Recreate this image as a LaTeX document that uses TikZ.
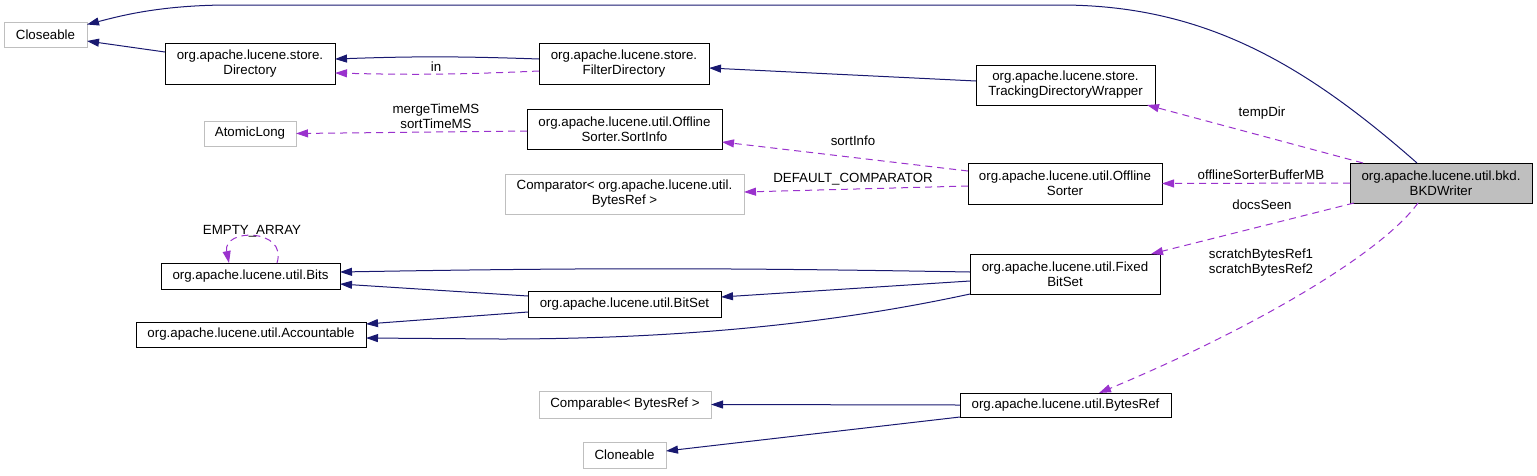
\documentclass[tikz,border=0pt]{standalone}
\usepackage{fontspec}
\setmainfont{Liberation Sans}
\usetikzlibrary{arrows.meta,calc}
\definecolor{edgeblue}{RGB}{25,25,112}
\definecolor{edgepurple}{RGB}{154,50,205}
\definecolor{boxgray}{RGB}{191,191,191}
\tikzset{
	cls/.style={draw=black, line width=1pt, fill=white},
	ext/.style={draw=boxgray, line width=1pt, fill=white},
	inh/.style={draw=edgeblue, line width=1pt, -{Triangle[length=12pt,width=8pt]}},
	use/.style={draw=edgepurple, line width=1pt, dash pattern=on 7pt off 5pt, -{Triangle[length=12pt,width=8pt,fill=edgepurple]}},
	lbl/.style={fill=none}
}
\begin{document}
\begin{tikzpicture}[x=1pt, y=-1pt, font=\fontsize{13.3}{15}\selectfont, align=center, inner sep=0pt, outer sep=0pt]
		\useasboundingbox (0,0) rectangle (1537,475);
		\node[ext, minimum width=83pt, minimum height=25pt] (closeTop) at (45.5,34.5) {Closeable};
		\node[cls, minimum width=170pt, minimum height=41pt] (directory) at (250,63.5) {org.apache.lucene.store.\\Directory};
		\node[cls, minimum width=170pt, minimum height=41pt] (filterDir) at (624,63.5) {org.apache.lucene.store.\\FilterDirectory};
		\node[cls, minimum width=179pt, minimum height=40pt] (tracking) at (1065.5,85) {org.apache.lucene.store.\\TrackingDirectoryWrapper};
		\node[ext, minimum width=92pt, minimum height=25pt] (atomicLong) at (250,133.5) {AtomicLong};
		\node[cls, minimum width=195pt, minimum height=40pt] (sortInfo) at (624.5,129) {org.apache.lucene.util.Offline\\Sorter.SortInfo};
		\node[ext, minimum width=239pt, minimum height=40pt] (comparator) at (624.5,194) {Comparator< org.apache.lucene.util.\\BytesRef >};
		\node[cls, minimum width=194pt, minimum height=41pt] (sorter) at (1065,183.5) {org.apache.lucene.util.Offline\\Sorter};
		\node[cls, fill=boxgray, minimum width=182pt, minimum height=40pt] (bkdWriter) at (1441,183) {org.apache.lucene.util.bkd.\\BKDWriter};
		\node[cls, minimum width=179pt, minimum height=26pt] (bits) at (250.5,276) {org.apache.lucene.util.Bits};
		\node[cls, minimum width=230pt, minimum height=25pt] (accountable) at (251,334.5) {org.apache.lucene.util.Accountable};
		\node[cls, minimum width=193pt, minimum height=26pt] (bitSet) at (624.5,304) {org.apache.lucene.util.BitSet};
		\node[cls, minimum width=190pt, minimum height=40pt] (fixedBitSet) at (1065,274) {org.apache.lucene.util.Fixed\\BitSet};
		\node[ext, minimum width=172pt, minimum height=27pt] (comparable) at (625,404.5) {Comparable< BytesRef >};
		\node[cls, minimum width=211pt, minimum height=24pt] (bytesRef) at (1065.5,405) {org.apache.lucene.util.BytesRef};
		\node[ext, minimum width=83pt, minimum height=26pt] (cloneBottom) at (624.5,455) {Cloneable};

		\draw[inh] ([xshift=-24pt]bkdWriter.north) .. controls (1300,60) and (1200,5) .. (1060,5) -- (230,5) .. controls (160,5) and (120,16) .. ([yshift=10pt]closeTop.east);
		\draw[inh] ([yshift=11.5pt]directory.west) -- ([yshift=-6.5pt]closeTop.east);
		\draw[inh] ([yshift=4.5pt]filterDir.west) to[bend right=2] ([yshift=4.5pt]directory.east);
		\draw[use] ([yshift=-7.5pt]filterDir.west) to[bend left=2] ([yshift=-9.5pt]directory.east);
		\draw[inh] ([yshift=4pt]tracking.west) -- ([yshift=-4.5pt]filterDir.east);
		\draw[use] ([xshift=-78pt]bkdWriter.north) -- ([xshift=81.5pt]tracking.south);
		\draw[use] ([yshift=12.5pt]sorter.west) -- ([yshift=-13pt]sortInfo.east);
		\draw[use] ([yshift=-2.5pt]sorter.west) -- ([yshift=2pt]comparator.east);
		\draw[use] ([yshift=-2pt]sortInfo.west) -- (atomicLong.east);
		\draw[use] (bkdWriter.west) -- (sorter.east);
		\draw[use] ([xshift=4pt]bkdWriter.south west) -- ([xshift=-9pt]fixedBitSet.north east);
		\draw[use] ([xshift=-23pt]bkdWriter.south) .. controls (1380,255) and (1250,330) .. ([xshift=33.5pt]bytesRef.north);
		\draw[inh] ([yshift=2pt]fixedBitSet.west) to[bend right=1] ([yshift=4pt]bits.east);
		\draw[inh] ([yshift=-7pt]fixedBitSet.west) -- ([yshift=7pt]bitSet.east);
		\draw[inh] (fixedBitSet.south west) .. controls (850,320) and (700,339) .. (500,339) -- ([yshift=-3.5pt]accountable.east);
		\draw[inh] ([yshift=8pt]bitSet.west) -- ([yshift=-8pt]bits.east);
		\draw[inh] ([yshift=-8pt]bitSet.west) -- ([yshift=10.5pt]accountable.east);
		\draw[use] ([xshift=26.5pt]bits.north) .. controls (288,228) and (222,228) .. ([xshift=-21.5pt]bits.north);
		\draw[inh] (bytesRef.west) -- (comparable.east);
		\draw[inh] (bytesRef.south west) -- ([yshift=4pt]cloneBottom.east);

		\node[lbl] (inLbl) at (436,67) {in};
		\node[lbl] (timeLbl) at (436,116) {mergeTimeMS\\sortTimeMS};
		\node[lbl] (tempDirLbl) at (1262,113) {tempDir};
		\node[lbl] (sortInfoLbl) at (853,141) {sortInfo};
		\node[lbl] (comparatorLbl) at (853,179) {DEFAULT\_COMPARATOR};
		\node[lbl] (bufferLbl) at (1261,175) {offlineSorterBufferMB};
		\node[lbl] (docsLbl) at (1262,205) {docsSeen};
		\node[lbl] (scratchLbl) at (1261,263) {scratchBytesRef1\\scratchBytesRef2};
		\node[lbl] (emptyLbl) at (252,231) {EMPTY\_ARRAY};
	\end{tikzpicture}
\end{document}
